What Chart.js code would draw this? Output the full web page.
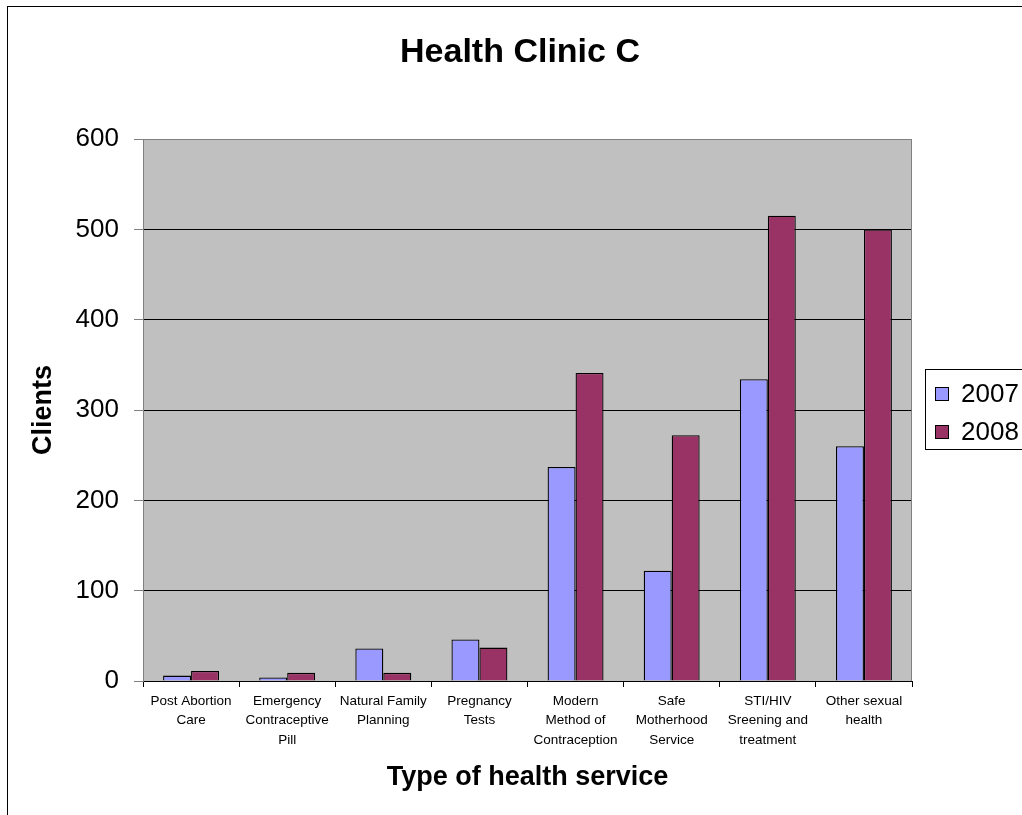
<!DOCTYPE html>
<html>
<head>
<meta charset="utf-8">
<script src="https://cdn.jsdelivr.net/npm/chart.js@4.4.1/dist/chart.umd.min.js"></script>
<style>
  html, body { margin: 0; padding: 0; background: #ffffff; overflow: hidden; }
  #wrap { width: 1022px; height: 815px; position: relative; }
</style>
</head>
<body>
<div id="wrap"><canvas id="c" width="1022" height="815"></canvas></div>
<script>
const categories = [
  ["Post Abortion", "Care"],
  ["Emergency", "Contraceptive", "Pill"],
  ["Natural Family", "Planning"],
  ["Pregnancy", "Tests"],
  ["Modern", "Method of", "Contraception"],
  ["Safe", "Motherhood", "Service"],
  ["STI/HIV", "Sreening and", "treatment"],
  ["Other sexual", "health"]
];
const seriesNames = ["2007", "2008"];
const values2007 = [6, 4, 36, 46, 237, 122, 334, 260];
const values2008 = [11, 9, 9, 37, 341, 272, 515, 500];
const yTicks = [0, 100, 200, 300, 400, 500, 600];

const FONT = "'Liberation Sans', Arial, Helvetica, sans-serif";

const decorPlugin = {
  id: 'decor',
  beforeDraw(chart) {
    const { ctx, chartArea: a } = chart;
    ctx.save();
    ctx.fillStyle = '#ffffff';
    ctx.fillRect(0, 0, chart.width, chart.height);
    ctx.fillStyle = '#C0C0C0';
    ctx.fillRect(a.left, a.top, a.right - a.left, a.bottom - a.top);
    ctx.strokeStyle = '#000000';
    ctx.lineWidth = 1;
    ctx.strokeRect(7.5, 6.5, 1200, 1000);
    ctx.restore();
  },
  afterDraw(chart) {
    const { ctx, chartArea: a } = chart;
    ctx.save();
    ctx.strokeStyle = '#808080';
    ctx.lineWidth = 1;
    ctx.beginPath();
    ctx.moveTo(a.left, a.top + 0.5);
    ctx.lineTo(a.right - 0.5, a.top + 0.5);
    ctx.lineTo(a.right - 0.5, a.bottom);
    ctx.stroke();
    const lx = 925.5, ly = 369.5;
    ctx.strokeStyle = '#000000';
    ctx.strokeRect(lx, ly, 130, 80);
    ctx.font = '26px ' + FONT;
    ctx.textBaseline = 'middle';
    ctx.textAlign = 'left';
    const rowsY = [394, 432];
    chart.data.datasets.forEach((ds, i) => {
      const cy = rowsY[i];
      ctx.fillStyle = ds.backgroundColor;
      ctx.fillRect(935, cy - 7, 14, 14);
      ctx.strokeStyle = '#000000';
      ctx.strokeRect(935.5, cy - 6.5, 13, 13);
      ctx.fillStyle = '#000000';
      ctx.fillText(ds.label, 961, cy + 1);
    });
    ctx.restore();
  }
};

new Chart(document.getElementById('c'), {
  type: 'bar',
  data: {
    labels: categories,
    datasets: [
      { label: seriesNames[0], data: values2007, backgroundColor: '#9999FF', borderColor: '#000000', borderWidth: 1.3 },
      { label: seriesNames[1], data: values2008, backgroundColor: '#993366', borderColor: '#000000', borderWidth: 1.3 }
    ]
  },
  options: {
    responsive: false,
    animation: false,
    devicePixelRatio: 1,
    categoryPercentage: 0.582,
    barPercentage: 1.0,
    layout: { padding: { left: 18, right: 0, top: 0, bottom: 0 } },
    plugins: {
      legend: { display: false },
      tooltip: { enabled: false },
      title: {
        display: true,
        text: 'Health Clinic C',
        color: '#000000',
        font: { family: FONT, size: 34, weight: 'bold', lineHeight: 1.2 },
        padding: { top: 32, bottom: 66.2 }
      }
    },
    scales: {
      x: {
        offset: true,
        grid: { display: true, drawOnChartArea: false, drawTicks: true, tickLength: 6, color: '#000000', offset: true },
        border: { display: true, color: '#000000', width: 1 },
        ticks: {
          color: '#000000',
          font: { family: FONT, size: 13.5, lineHeight: 1.45 },
          padding: 4,
          maxRotation: 0,
          autoSkip: false
        },
        title: {
          display: true,
          text: 'Type of health service',
          color: '#000000',
          font: { family: FONT, size: 27, weight: 'bold', lineHeight: 1.2 },
          padding: { top: 0, bottom: 21 }
        },
        afterFit(scale) { scale.height = 134; }
      },
      y: {
        min: 0,
        max: 600,
        afterBuildTicks(scale) { scale.ticks = yTicks.map(v => ({ value: v })); },
        grid: {
          color: (ctx) => (ctx.tick && ctx.tick.value === 600 ? '#808080' : '#000000'),
          tickColor: '#808080',
          tickLength: 9,
          lineWidth: 1
        },
        border: { display: true, color: '#808080', width: 1 },
        ticks: {
          color: '#000000',
          font: { family: FONT, size: 26 },
          padding: 15
        },
        title: {
          display: true,
          text: 'Clients',
          color: '#000000',
          font: { family: FONT, size: 27, weight: 'bold', lineHeight: 1.2 },
          padding: { top: 9, bottom: 0 }
        },
        afterFit(scale) { scale.width = 125; }
      },
      legendSpace: {
        type: 'linear',
        position: 'right',
        display: true,
        grid: { display: false, drawTicks: false },
        border: { display: false },
        ticks: { display: false },
        afterFit(scale) { scale.width = 110; }
      }
    }
  },
  plugins: [decorPlugin]
});
</script>
</body>
</html>
